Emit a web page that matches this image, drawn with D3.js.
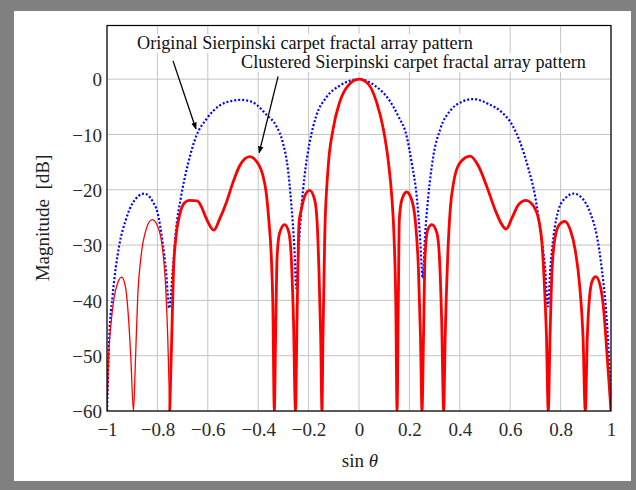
<!DOCTYPE html>
<html>
<head>
<meta charset="utf-8">
<script src="https://cdn.jsdelivr.net/npm/d3@7"></script>
<style>
  body { margin: 0; background: #808080; }
  text { font-family: "Liberation Serif", "Times New Roman", serif; }
</style>
</head>
<body>
<div id="graph"></div>
<script>
// Données (sin theta, dB)
const origX = [-1, -0.991, -0.978, -0.952, -0.925, -0.898, -0.852, -0.819, -0.799, -0.779, -0.766, -0.753,
  -0.739, -0.726, -0.706, -0.679, -0.646, -0.607, -0.554, -0.501, -0.468, -0.421, -0.368, -0.328, -0.302,
  -0.282, -0.269, -0.256, -0.249, -0.238, -0.229, -0.216, -0.196, -0.170, -0.130, -0.077, 0,
  0.064, 0.117, 0.156, 0.189, 0.209, 0.229, 0.242, 0.253, 0.262, 0.275, 0.295, 0.322, 0.368, 0.408, 0.454,
  0.514, 0.567, 0.607, 0.640, 0.673, 0.699, 0.719, 0.739, 0.750, 0.759, 0.772, 0.792, 0.819, 0.852, 0.885,
  0.918, 0.944, 0.964, 0.980, 0.991, 1]
const origY = [-60, -46.6, -39.3, -30.2, -25.4, -22.4, -20.7, -22.1, -24.2, -29.6, -34.5, -41.4,
  -34.5, -27.2, -21.2, -15.4, -10.3, -7.3, -4.8, -3.9, -3.75, -4.2, -6.4, -8.5, -11.5,
  -16.3, -22.4, -30.9, -37.8, -29.6, -23.6, -17.5, -11.5, -6.7, -3.3, -1.2, 0,
  -1.2, -3.6, -6.7, -10.3, -15.1, -21.2, -28.4, -36.0, -28.4, -21.2, -13.9, -9.1, -5.4, -4.1, -3.6,
  -4.5, -6.0, -8.2, -11.5, -16.3, -21.2, -27.2, -34.5, -41.1, -34.5, -28.4, -23.6, -21.5, -20.7, -21.5,
  -24.2, -28.4, -34.5, -41.7, -49.6, -60]

const clustX = [-1, -0.993, -0.984, -0.971, -0.958, -0.942, -0.927, -0.914, -0.905, -0.895,
  -0.887, -0.878, -0.865, -0.845, -0.821, -0.799, -0.781, -0.768, -0.759, -0.751,
  -0.743, -0.736, -0.726, -0.713, -0.693, -0.673, -0.642, -0.626, -0.607, -0.576, -0.554, -0.527, -0.501,
  -0.474, -0.434, -0.408, -0.381, -0.368, -0.358, -0.348, -0.342, -0.336,
  -0.331, -0.325, -0.315, -0.295, -0.278, -0.269, -0.260, -0.252,
  -0.246, -0.238, -0.229, -0.216, -0.196, -0.176, -0.166, -0.159, -0.152, -0.147,
  -0.143, -0.136, -0.123, -0.103, -0.077, -0.044, 0,
  0.037, 0.070, 0.097, 0.117, 0.130, 0.139, 0.146, 0.151,
  0.156, 0.160, 0.170, 0.189, 0.209, 0.223, 0.236, 0.244, 0.250,
  0.256, 0.262, 0.273, 0.289, 0.309, 0.319, 0.328, 0.336,
  0.342, 0.352, 0.362, 0.375, 0.401, 0.441, 0.474, 0.507, 0.540, 0.567, 0.584, 0.607, 0.633, 0.662,
  0.693, 0.713, 0.726, 0.736, 0.744, 0.751,
  0.758, 0.766, 0.779, 0.795, 0.816, 0.838, 0.858, 0.876, 0.889, 0.898,
  0.906, 0.915, 0.927, 0.940, 0.958, 0.971, 0.984, 1]
const clustY = [-60, -49.6, -44.2, -39.3, -36.9, -35.8, -37.5, -43.6, -50.8, -60,
  -50.8, -39.3, -32.1, -27.2, -25.4, -26.6, -30.2, -36.9, -46.6, -60,
  -46.6, -34.5, -28.4, -24.8, -22.4, -21.9, -22.0, -23.0, -25.1, -27.3, -25.4, -22.4, -18.8,
  -15.7, -14.0, -14.8, -17.5, -20.6, -25.4, -32.1, -40.5, -60,
  -46.6, -32.1, -27.8, -26.3, -27.8, -32.1, -43.6, -60,
  -43.6, -26.0, -23.6, -21.2, -20.1, -21.8, -26.0, -34.5, -46.6, -60,
  -46.6, -28.4, -16.3, -9.1, -4.2, -1.2, 0,
  -0.9, -4.2, -9.1, -15.1, -21.2, -28.4, -40.5, -60,
  -40.5, -25.4, -21.8, -20.4, -21.8, -25.4, -34.5, -46.6, -60,
  -46.6, -32.1, -27.2, -26.3, -27.8, -32.1, -43.6, -60,
  -46.6, -32.1, -23.6, -18.8, -15.1, -13.9, -15.7, -19.4, -23.6, -26.3, -27.1, -25.1, -22.7, -21.9,
  -23.0, -25.4, -29.6, -37.5, -46.6, -60,
  -46.6, -34.5, -28.4, -26.3, -25.7, -27.2, -30.9, -37.5, -46.6, -60,
  -46.6, -39.3, -36.3, -35.7, -37.5, -41.7, -49.6, -60]

const xTicks = [-1, -0.8, -0.6, -0.4, -0.2, 0, 0.2, 0.4, 0.6, 0.8, 1]
const yTicks = [-60, -50, -40, -30, -20, -10, 0]
const labelOrig = 'Original Sierpinski carpet fractal array pattern'
const labelClust = 'Clustered Sierpinski carpet fractal array pattern'

let totalW = 636, totalH = 490
let margin = { top: 25.5, right: 25, bottom: 79, left: 107 },
    width = 611 - 107,
    height = 411 - 25.5

let root = d3.select('#graph').append('svg')
    .attr('width', totalW)
    .attr('height', totalH)

// cadre gris + panneau blanc
root.append('rect').attr('width', totalW).attr('height', totalH).attr('fill', '#808080')
root.append('rect').attr('x', 14).attr('y', 11).attr('width', 617).attr('height', 470).attr('fill', '#fff')

let svg = root.append('g').attr('transform', 'translate(' + margin.left + ',' + margin.top + ')')

let x = d3.scaleLinear().domain([-1, 1]).range([0, width])
let y = d3.scaleLinear().domain([-60, 9.7]).range([height, 0])

// grille
svg.append('g').selectAll('line.gx').data(xTicks).join('line')
    .attr('x1', d => x(d)).attr('x2', d => x(d))
    .attr('y1', 0).attr('y2', height)
    .attr('stroke', '#c4c4c4').attr('stroke-width', 1)
svg.append('g').selectAll('line.gy').data(yTicks).join('line')
    .attr('y1', d => y(d)).attr('y2', d => y(d))
    .attr('x1', 0).attr('x2', width)
    .attr('stroke', '#c4c4c4').attr('stroke-width', 1)

// axes (labels seulement)
let fmt = d => (d < 0 ? '\u2212' : '') + Math.abs(d)
let xAxis = svg.append('g')
    .attr('transform', 'translate(0,' + height + ')')
    .call(d3.axisBottom(x).tickValues(xTicks).tickSize(0).tickPadding(0).tickFormat(fmt))
xAxis.select('.domain').remove()
xAxis.selectAll('text').attr('font-size', 19).attr('fill', '#2a2a2a')
    .attr('dy', null).attr('y', 25)

let yAxis = svg.append('g')
    .call(d3.axisLeft(y).tickValues(yTicks).tickSize(0).tickPadding(5).tickFormat(fmt))
yAxis.select('.domain').remove()
yAxis.selectAll('text').attr('font-size', 19).attr('fill', '#2a2a2a').attr('dy', '0.36em')
svg.selectAll('.tick text').attr('font-family', '"Liberation Serif", serif')

// courbes
svg.append('clipPath').attr('id', 'clip')
    .append('rect').attr('x', 0).attr('y', 0).attr('width', width).attr('height', height)

let line = d3.line()
    .x(d => x(d[0]))
    .y(d => y(d[1]))
    .curve(d3.curveMonotoneX)

let orig = origX.map((v, i) => [v, origY[i]])
let clust = clustX.map((v, i) => [v, clustY[i]])

let curves = svg.append('g').attr('clip-path', 'url(#clip)')
curves.append('path')
    .attr('d', line(orig))
    .attr('fill', 'none')
    .attr('stroke', '#0000ff')
    .attr('stroke-width', 2.2)
    .attr('stroke-dasharray', '2,2')
curves.append('path')
    .attr('d', line(clust.filter(d => d[0] <= -0.751)))
    .attr('fill', 'none')
    .attr('stroke', '#ff0000')
    .attr('stroke-width', 1.3)
curves.append('path')
    .attr('d', line(clust.filter(d => d[0] >= -0.751)))
    .attr('fill', 'none')
    .attr('stroke', '#ff0000')
    .attr('stroke-width', 2.8)
    .attr('stroke-linejoin', 'round')

// cadre du graphique
svg.append('rect')
    .attr('width', width).attr('height', height)
    .attr('fill', 'none').attr('stroke', '#000').attr('stroke-width', 1.2)

// annotations
function addLabel(txt, px, py) {
    let g = svg.append('g')
    let t = g.append('text')
        .attr('x', px).attr('y', py)
        .attr('font-size', 18.2)
        .attr('fill', '#111')
        .text(txt)
    let b = t.node().getBBox()
    g.insert('rect', 'text')
        .attr('x', b.x - 2).attr('y', b.y + 1).attr('width', b.width + 4).attr('height', b.height - 1)
        .attr('fill', '#fff')
}
addLabel(labelOrig, 137 - margin.left, 49 - margin.top)
addLabel(labelClust, 241 - margin.left, 68 - margin.top)

svg.append('defs').append('marker')
    .attr('id', 'arrow')
    .attr('viewBox', '0 0 10 10')
    .attr('refX', 9).attr('refY', 5)
    .attr('markerWidth', 7).attr('markerHeight', 7)
    .attr('markerUnits', 'userSpaceOnUse')
    .attr('orient', 'auto')
    .append('path').attr('d', 'M0,1 L10,5 L0,9 Z').attr('fill', '#000')

let arrows = [
    { from: [-0.738, 3.3], to: [-0.647, -9.0] },
    { from: [-0.321, 0.5], to: [-0.396, -13.3] }
]
svg.append('g').selectAll('line').data(arrows).join('line')
    .attr('x1', d => x(d.from[0])).attr('y1', d => y(d.from[1]))
    .attr('x2', d => x(d.to[0])).attr('y2', d => y(d.to[1]))
    .attr('stroke', '#000').attr('stroke-width', 1.3)
    .attr('marker-end', 'url(#arrow)')

// titres des axes
root.append('text')
    .attr('transform', 'translate(49,218) rotate(-90)')
    .attr('text-anchor', 'middle')
    .attr('font-size', 19)
    .attr('fill', '#222')
    .attr('xml:space', 'preserve')
    .style('white-space', 'pre')
    .text('Magnitude  [dB]')

let xl = root.append('text')
    .attr('x', 360).attr('y', 467)
    .attr('text-anchor', 'middle')
    .attr('font-size', 19)
    .attr('fill', '#222')
xl.append('tspan').text('sin ')
xl.append('tspan').attr('font-style', 'italic').text('\u03b8')
</script>
</body>
</html>
